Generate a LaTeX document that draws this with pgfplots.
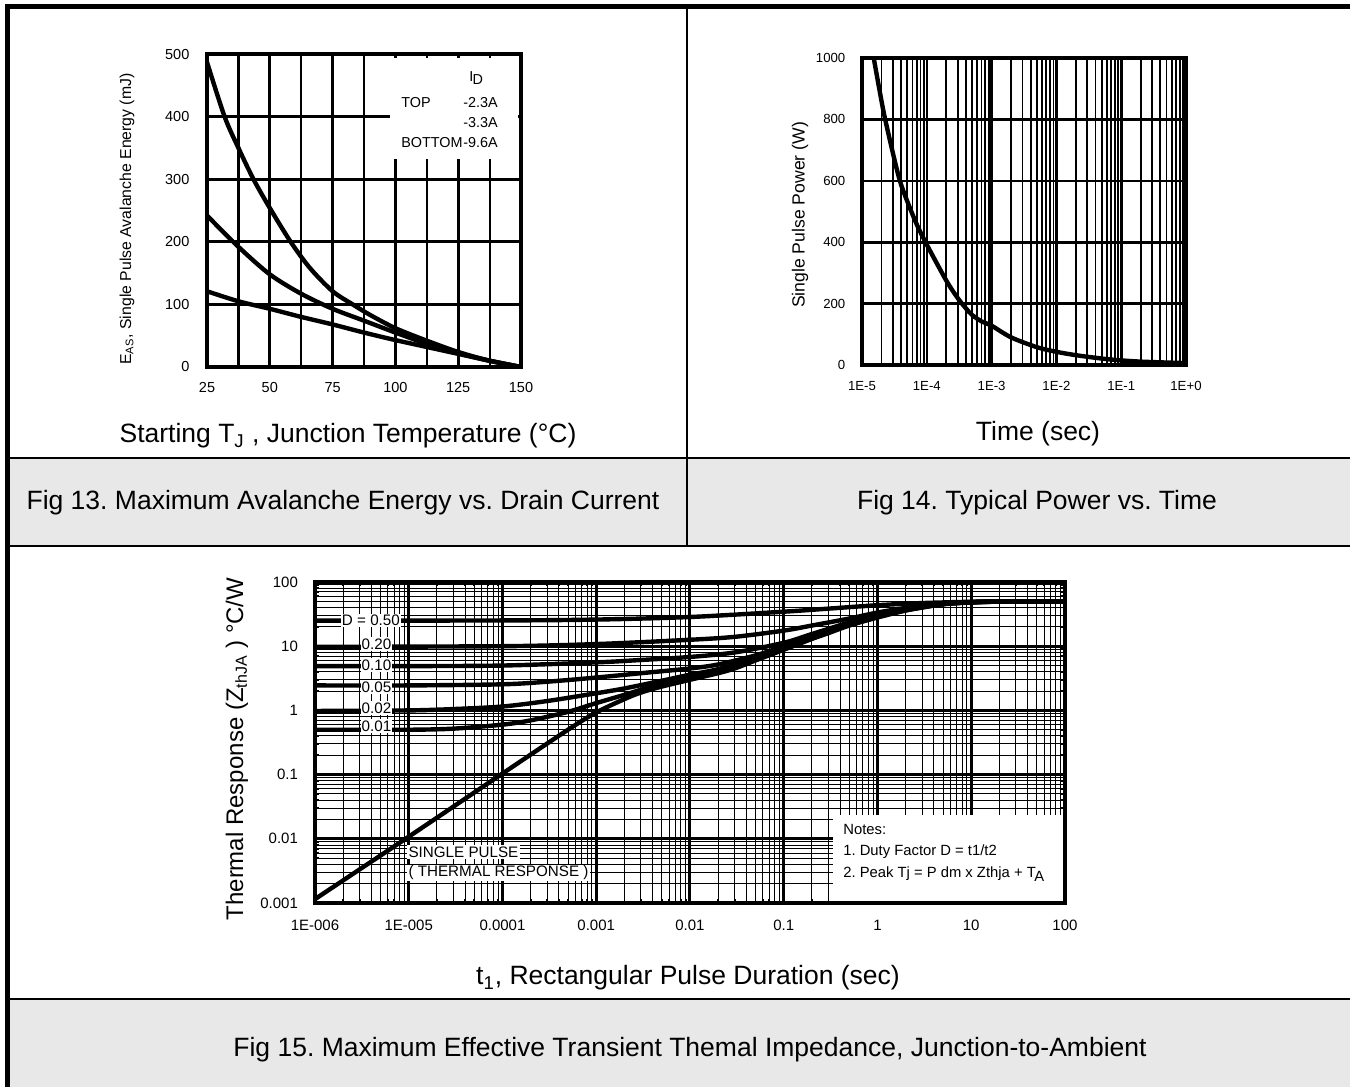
\documentclass[border=0pt]{standalone}
\usepackage{fontspec}
\setmainfont{Liberation Sans}
\usepackage{pgfplots}
\pgfplotsset{compat=1.18}
\definecolor{capgray}{HTML}{E8E8E8}
\newcommand\fsz[1]{\fontsize{#1}{#1}\selectfont}
\frenchspacing

\pgfplotsset{
  sheet/.style={
    scale only axis,
    anchor=south west,
    axis line style={black, line width=2pt},
    grid=both,
    tick style={black, line width=0.8pt},
    major tick length=3pt, minor tick length=2pt,
    tick align=inside,
    /pgf/number format/assume math mode=true,
    /pgf/number format/1000 sep={},
  },
  curve/.style={black, line width=2.2pt, smooth, mark=none},
}

\begin{document}
\begin{tikzpicture}
\useasboundingbox (0pt,0pt) rectangle (675pt,-543.5pt);
\begin{scope}[x=0.5pt,y=-0.5pt]
  \fill[capgray] (8,458) rectangle (1350,546);
  \fill[capgray] (8,999) rectangle (1350,1087);
  \draw[line width=1.3pt] (8,458) -- (1350,458);
  \draw[line width=1.3pt] (8,546) -- (1350,546);
  \draw[line width=1.3pt] (8,999) -- (1350,999);
  \draw[line width=1.1pt] (687,6) -- (687,546);
  \draw[line width=2.5pt] (7.5,4) -- (7.5,1087);
  \draw[line width=2.5pt] (5,6.5) -- (1350,6.5);
  \begin{scope}[every node/.style={font=\fsz{13.25}, inner sep=0pt}]
    \node at (348,436) {Starting T\textsubscript{J} , Junction Temperature (°C)};
    \node at (343,503) {Fig 13. Maximum Avalanche Energy vs. Drain Current};
    \node at (1038,434) {Time (sec)};
    \node at (1037,503) {Fig 14. Typical Power vs. Time};
    \node at (688,978) {t\textsubscript{1}, Rectangular Pulse Duration (sec)};
    \node at (690,1050) {Fig 15. Maximum Effective Transient Themal Impedance, Junction-to-Ambient};
  \end{scope}
  \node[rotate=90, inner sep=0pt, font=\fsz{7.9}] at (127,219) {E\textsubscript{AS}, Single Pulse Avalanche Energy (mJ)};
  \node[rotate=90, inner sep=0pt, font=\fsz{8.8}] at (800,215) {Single Pulse Power (W)};
  \node[rotate=90, inner sep=0pt, font=\fsz{12}] at (237,749) {Thermal Response (Z\textsubscript{thJA} ) °C/W};
\end{scope}

% Fig 13
\begin{axis}[sheet,
  at={(103.5pt,-183.5pt)}, width=157pt, height=156.5pt,
  xmin=25, xmax=150, ymin=0, ymax=500,
  xtick={25,50,75,100,125,150},
  minor xtick={37.5,62.5,87.5,112.5,137.5},
  ytick={0,100,200,300,400,500},
  major grid style={black, line width=1.6pt},
  minor grid style={black, line width=1.1pt},
  tick label style={font=\fsz{7.25}},
  xticklabel style={yshift=-4.1pt},
  yticklabel style={xshift=-5.3pt},
]
\fill[white] (axis cs:98,332) rectangle (axis cs:148.8,493);
\addplot[curve] coordinates {
  (25,487) (32,400) (37.5,350) (43.5,300) (50,254) (58.3,200) (66,158)
  (75,121) (83,100) (90,83) (100,62) (112.5,42) (125,24) (137.5,10) (150,0)
};
\addplot[curve] coordinates {
  (25,242) (37.5,192) (50,148) (62.5,117) (75,93) (87.5,74) (100,55)
  (112.5,37) (125,22) (137.5,10) (150,0)
};
\addplot[curve] coordinates {
  (25,121) (37.5,105) (50,93) (62.5,80) (75,68) (87.5,55) (100,43)
  (112.5,32) (125,21) (137.5,10) (150,0)
};
\begin{scope}[every node/.style={anchor=west, inner sep=0pt, font=\fsz{7.2}}]
  \node at (axis cs:129.3,461.7) {I\kern-0.05em\raisebox{-0.45ex}{D}};
  \node at (axis cs:102.2,422) {TOP};
  \node at (axis cs:126.9,422) {-2.3A};
  \node at (axis cs:126.9,389.8) {-3.3A};
  \node at (axis cs:102.2,358.6) {BOTTOM};
  \node at (axis cs:126.9,358.6) {-9.6A};
\end{scope}
\draw[line width=2pt] (rel axis cs:0,0) rectangle (rel axis cs:1,1);
\end{axis}

% Fig 14
\begin{axis}[sheet,
  at={(431pt,-182.5pt)}, width=162pt, height=153.5pt,
  xmode=log, xmin=1e-5, xmax=1, ymin=0, ymax=1000,
  axis line style={black, line width=1.7pt},
  xtick={1e-5,1e-4,1e-3,1e-2,1e-1,1},
  xticklabels={1E-5,1E-4,1E-3,1E-2,1E-1,1E+0},
  minor xtick={2e-5,3e-5,4e-5,5e-5,6e-5,7e-5,8e-5,9e-5,
    2e-4,3e-4,4e-4,5e-4,6e-4,7e-4,8e-4,9e-4,
    2e-3,3e-3,4e-3,5e-3,6e-3,7e-3,8e-3,9e-3,
    2e-2,3e-2,4e-2,5e-2,6e-2,7e-2,8e-2,9e-2,
    0.2,0.3,0.4,0.5,0.6,0.7,0.8,0.9},
  ytick={0,200,400,600,800,1000},
  yticklabels={0,200,400,600,800,1000},
  major grid style={black, line width=1.3pt},
  minor grid style={black, line width=0.9pt},
  tick label style={font=\fsz{6.6}},
  xticklabel style={yshift=-4.8pt},
  yticklabel style={xshift=-4.8pt},
]
\addplot[curve] coordinates {
  (1.4e-5,1060) (1.52e-5,1000) (2e-5,860) (2.28e-5,800) (3e-5,690)
  (3.84e-5,600) (5e-5,533) (7e-5,458) (1e-4,392) (2e-4,275) (3e-4,218)
  (4e-4,185) (5e-4,163) (7e-4,142) (1e-3,128) (2e-3,90) (5e-3,58)
  (1e-2,43) (2e-2,32) (5e-2,21) (0.1,15) (0.2,11) (0.5,8) (1,6)
};
\end{axis}

% Fig 15
\begin{axis}[sheet,
  at={(157.5pt,-451.5pt)}, width=375pt, height=160.5pt,
  xmode=log, ymode=log, xmin=1e-6, xmax=100, ymin=1e-3, ymax=100,
  axis line style={black, line width=1.6pt},
  xtick={1e-6,1e-5,1e-4,1e-3,1e-2,1e-1,1,10,100},
  xticklabels={1E-006,1E-005,0.0001,0.001,0.01,0.1,1,10,100},
  ytick={1e-3,1e-2,1e-1,1,10,100},
  yticklabels={0.001,0.01,0.1,1,10,100},
  minor xtick={2e-6,3e-6,4e-6,5e-6,6e-6,7e-6,8e-6,9e-6,
    2e-5,3e-5,4e-5,5e-5,6e-5,7e-5,8e-5,9e-5,
    2e-4,3e-4,4e-4,5e-4,6e-4,7e-4,8e-4,9e-4,
    2e-3,3e-3,4e-3,5e-3,6e-3,7e-3,8e-3,9e-3,
    2e-2,3e-2,4e-2,5e-2,6e-2,7e-2,8e-2,9e-2,
    0.2,0.3,0.4,0.5,0.6,0.7,0.8,0.9,
    2,3,4,5,6,7,8,9,20,30,40,50,60,70,80,90},
  minor ytick={2e-3,3e-3,4e-3,5e-3,6e-3,7e-3,8e-3,9e-3,
    2e-2,3e-2,4e-2,5e-2,6e-2,7e-2,8e-2,9e-2,
    0.2,0.3,0.4,0.5,0.6,0.7,0.8,0.9,
    2,3,4,5,6,7,8,9,20,30,40,50,60,70,80,90},
  major grid style={black, line width=1.5pt},
  minor grid style={black, line width=0.5pt},
  tick label style={font=\fsz{7.5}},
  xticklabel style={yshift=-5pt},
  yticklabel style={xshift=-5pt},
]
\fill[white] (axis cs:0.335,0.0235) rectangle (axis cs:100,0.001);
% D = 0.50
\addplot[curve] coordinates {
  (1e-6,25) (1e-4,25.2) (1e-3,26) (1e-2,28.5) (0.1,34.5) (0.3,38.5)
  (1,43.5) (3,47) (10,49.2) (30,50) (100,50)
};
% D = 0.20
\addplot[curve] coordinates {
  (1e-6,9.8) (1e-4,10) (1e-3,10.8) (1e-2,12.6) (3e-2,14) (0.1,17.5)
  (0.2,21) (0.5,27) (1,33.5) (2,39.5) (5,46.5) (10,48.8) (20,49.7) (50,50) (100,50)
};
% D = 0.10
\addplot[curve] coordinates {
  (1e-6,4.9) (1e-5,4.9) (1e-4,5.0) (1e-3,5.6) (3e-3,6.1) (1e-2,6.8)
  (3e-2,8.0) (0.1,11.3) (0.2,15.5) (0.5,23.5) (1,31) (2,38) (5,46)
  (10,48.6) (20,49.7) (50,50) (100,50)
};
% D = 0.05
\addplot[curve] coordinates {
  (1e-6,2.45) (1e-5,2.45) (1e-4,2.55) (3e-4,2.8) (1e-3,3.25) (3e-3,3.8)
  (1e-2,4.5) (2e-2,5.2) (5e-2,7.2) (0.1,10) (0.2,14.3) (0.5,22.5) (1,29.8)
  (2,37) (5,45.6) (10,48.4) (20,49.6) (50,50) (100,50)
};
% D = 0.02
\addplot[curve] coordinates {
  (1e-6,0.98) (1e-5,1.0) (3e-5,1.05) (1e-4,1.15) (3e-4,1.4) (1e-3,1.85)
  (2e-3,2.2) (5e-3,2.9) (1e-2,3.6) (2e-2,4.4) (5e-2,6.6) (0.1,9.3)
  (0.2,13.5) (0.5,21.7) (1,29) (2,36.6) (5,45.4) (10,48.3) (20,49.6) (50,50) (100,50)
};
% D = 0.01
\addplot[curve] coordinates {
  (1e-6,0.5) (1e-5,0.5) (3e-5,0.52) (1e-4,0.6) (2e-4,0.7) (5e-4,0.95)
  (1e-3,1.3) (2e-3,1.75) (3e-3,2.1) (5e-3,2.6) (1e-2,3.3) (2e-2,4.1)
  (3e-2,4.8) (5e-2,6.3) (0.1,9.0) (0.2,13.2) (0.5,21.3) (1,28.5) (2,36.2)
  (5,45.2) (10,48.2) (20,49.5) (50,50) (100,50)
};
% single pulse
\addplot[curve] coordinates {
  (1e-6,0.00115) (1e-5,0.0108) (1e-4,0.104) (5e-4,0.5) (1e-3,0.93)
  (2e-3,1.5) (3e-3,1.9) (5e-3,2.35) (1e-2,3.0) (2e-2,3.8) (3e-2,4.5)
  (5e-2,6.0) (0.1,8.8) (0.2,13) (0.3,16) (0.5,21) (1,28) (2,36) (3,40)
  (5,45) (10,48) (20,49.5) (50,50) (100,50)
};
\begin{scope}[every node/.style={fill=white, inner sep=0.6pt, font=\fsz{7.6}}]
  \node at (axis cs:3.95e-6,25) {D = 0.50};
  \node at (axis cs:4.53e-6,10.8) {0.20};
  \node at (axis cs:4.53e-6,5.09) {0.10};
  \node at (axis cs:4.53e-6,2.31) {0.05};
  \node at (axis cs:4.53e-6,1.09) {0.02};
  \node at (axis cs:4.53e-6,0.571) {0.01};
\end{scope}
\begin{scope}[every node/.style={anchor=west, fill=white, inner sep=0.6pt, font=\fsz{7.6}}]
  \node at (axis cs:9.57e-6,0.00622) {SINGLE PULSE};
  \node at (axis cs:9.57e-6,0.00293) {( THERMAL RESPONSE )};
\end{scope}
\begin{scope}[every node/.style={anchor=west, inner sep=0pt, font=\fsz{7.4}}]
  \node at (axis cs:0.428,0.01422) {Notes:};
  \node at (axis cs:0.428,0.00622) {1. Duty Factor D = t1/t2};
  \node at (axis cs:0.428,0.00283) {2. Peak Tj = P dm x Zthja + T\kern-0.1em\raisebox{-0.5ex}{A}};
\end{scope}
\draw[line width=1.6pt] (rel axis cs:0,0) rectangle (rel axis cs:1,1);
\end{axis}
\end{tikzpicture}
\end{document}
